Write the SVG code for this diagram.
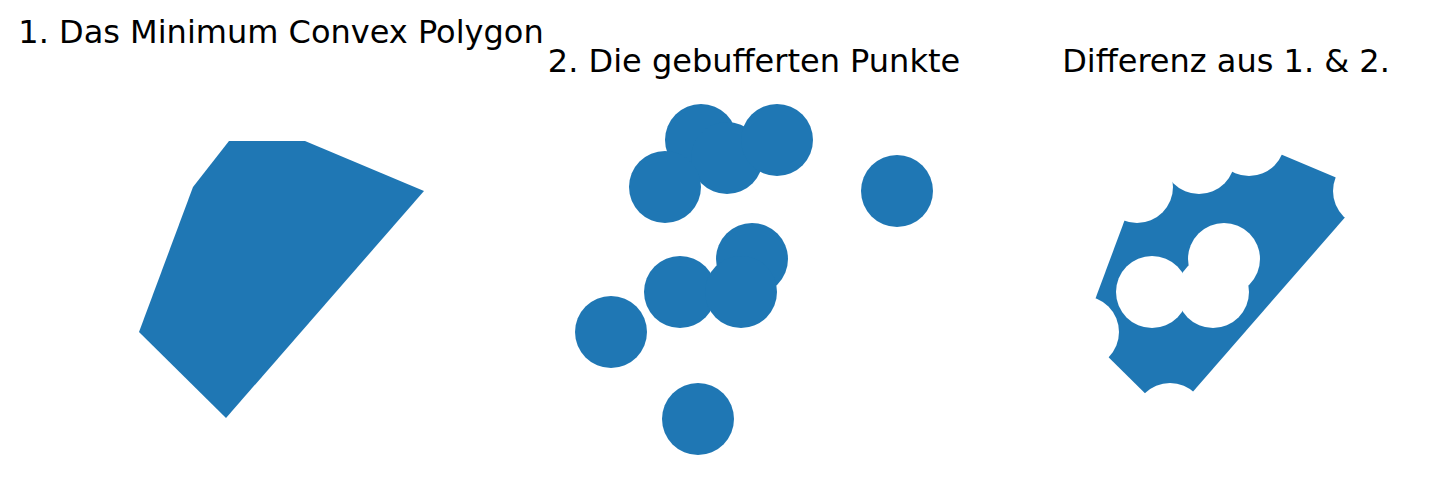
<svg xmlns="http://www.w3.org/2000/svg" width="1443" height="492" viewBox="0 0 1443 492">
<style>
.t{font-family:"DejaVu Sans",sans-serif;font-size:32px;fill:#000;text-anchor:middle}
.f{fill:#1f77b4}
</style>
<defs>
<mask id="m">
<rect x="0" y="0" width="1443" height="492" fill="#fff"/>
<g fill="#000">
<circle cx="1173" cy="140" r="36"/><circle cx="1199" cy="158" r="36"/><circle cx="1249" cy="140" r="36"/><circle cx="1137" cy="187" r="36"/><circle cx="1369" cy="191" r="36"/><circle cx="1224" cy="259" r="36"/><circle cx="1152" cy="292" r="36"/><circle cx="1213" cy="292" r="36"/><circle cx="1083" cy="332" r="36"/><circle cx="1170" cy="419" r="36"/>
</g>
</mask>
</defs>
<g id="panel1">
<text class="t" x="281" y="43">1. Das Minimum Convex Polygon</text>
<polygon class="f" points="229,141 305,141 424,191 226,418 139,332 193,187"/>
</g>
<g id="panel2">
<text class="t" x="754" y="72">2. Die gebufferten Punkte</text>
<g class="f">
<circle cx="701" cy="140" r="36"/><circle cx="727" cy="158" r="36"/><circle cx="777" cy="140" r="36"/><circle cx="665" cy="187" r="36"/><circle cx="897" cy="191" r="36"/><circle cx="752" cy="259" r="36"/><circle cx="680" cy="292" r="36"/><circle cx="741" cy="292" r="36"/><circle cx="611" cy="332" r="36"/><circle cx="698" cy="419" r="36"/>
</g>
</g>
<g id="panel3">
<text class="t" x="1226" y="72">Differenz aus 1. &amp; 2.</text>
<polygon class="f" mask="url(#m)" points="1173,141 1249,141 1368,191 1170,418 1083,332 1137,187"/>
</g>
<g id="connectors"/>
</svg>
